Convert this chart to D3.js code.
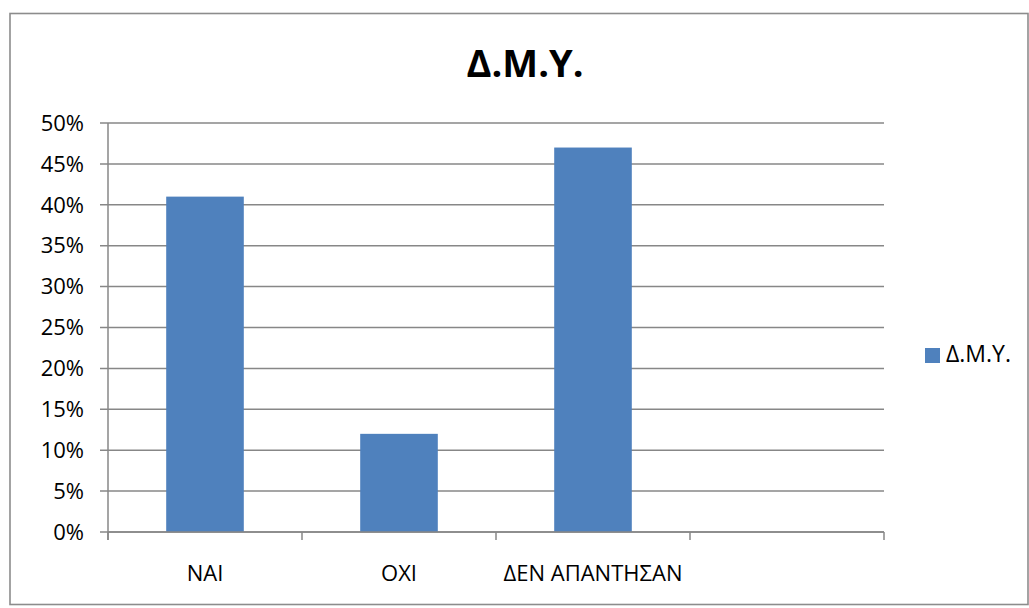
<!DOCTYPE html>
<html><head><meta charset="utf-8">
<script src="https://cdn.jsdelivr.net/npm/d3@7"></script>
<style>
body{margin:0;background:#fff;}
svg text{font-family:"Open Sans",sans-serif;fill:#000;}
</style></head>
<body><svg id="c" width="1029" height="608"></svg>
<script>
const title = "Δ.Μ.Υ.";
const seriesName = "Δ.Μ.Υ.";
const categories = ["ΝΑΙ", "ΟΧΙ", "ΔΕΝ ΑΠΑΝΤΗΣΑΝ", ""];
const values = [0.41, 0.12, 0.47, null];
const yTicks = [0, 0.05, 0.10, 0.15, 0.20, 0.25, 0.30, 0.35, 0.40, 0.45, 0.50];

const svg = d3.select("#c");
const plot = {left:108, right:884, top:123, bottom:532};

// outer border
svg.append("rect").attr("x",10).attr("y",13.5).attr("width",1018).attr("height",591)
  .attr("fill","#fff").attr("stroke","#8c8c8c").attr("stroke-width",1.6);

const x = d3.scaleBand().domain(categories.map((c,i)=>i)).range([plot.left, plot.right]).padding(0);
const y = d3.scaleLinear().domain([0,0.5]).range([plot.bottom, plot.top]);

// gridlines
svg.append("g").selectAll("line").data(yTicks).join("line")
  .attr("x1",100).attr("x2",plot.right)
  .attr("y1",d=>y(d)).attr("y2",d=>y(d))
  .attr("stroke","#878787").attr("stroke-width",1.5);

// y axis line
svg.append("line").attr("x1",plot.left).attr("x2",plot.left)
  .attr("y1",plot.top).attr("y2",540).attr("stroke","#878787").attr("stroke-width",1.5);

// y tick labels
svg.append("g").selectAll("text").data(yTicks).join("text")
  .attr("x",84).attr("y",d=>y(d)).attr("dy","0.35em")
  .attr("text-anchor","end").style("font-size","22px")
  .text(d3.format(".0%"));

// category ticks
const edges = categories.map((c,i)=>x(i)).concat([plot.right]);
svg.append("g").selectAll("line").data(edges).join("line")
  .attr("x1",d=>d).attr("x2",d=>d).attr("y1",plot.bottom).attr("y2",540)
  .attr("stroke","#878787").attr("stroke-width",1.5);

// bars
const bw = x.bandwidth()/2.5;
svg.append("g").selectAll("rect").data(values.map((v,i)=>({v,i})).filter(d=>d.v!=null)).join("rect")
  .attr("x",d=>x(d.i)+x.bandwidth()/2-bw/2)
  .attr("width",bw)
  .attr("y",d=>y(d.v))
  .attr("height",d=>y(0)-y(d.v))
  .attr("fill","#4f81bd");

// x axis line
svg.append("line").attr("x1",plot.left).attr("x2",plot.right)
  .attr("y1",plot.bottom).attr("y2",plot.bottom).attr("stroke","#878787").attr("stroke-width",1.5);

// category labels
svg.append("g").selectAll("text").data(categories).join("text")
  .attr("x",(d,i)=>x(i)+x.bandwidth()/2).attr("y",581)
  .attr("text-anchor","middle").style("font-size","22px")
  .text(d=>d);

// title
svg.append("text").attr("x",525).attr("y",77).attr("text-anchor","middle")
  .style("font-size","38px").style("font-weight","bold").text(title);

// legend
svg.append("rect").attr("x",925).attr("y",348).attr("width",15).attr("height",15).attr("fill","#4f81bd");
svg.append("text").attr("x",946).attr("y",362).style("font-size","23px").text(seriesName);
</script></body></html>
